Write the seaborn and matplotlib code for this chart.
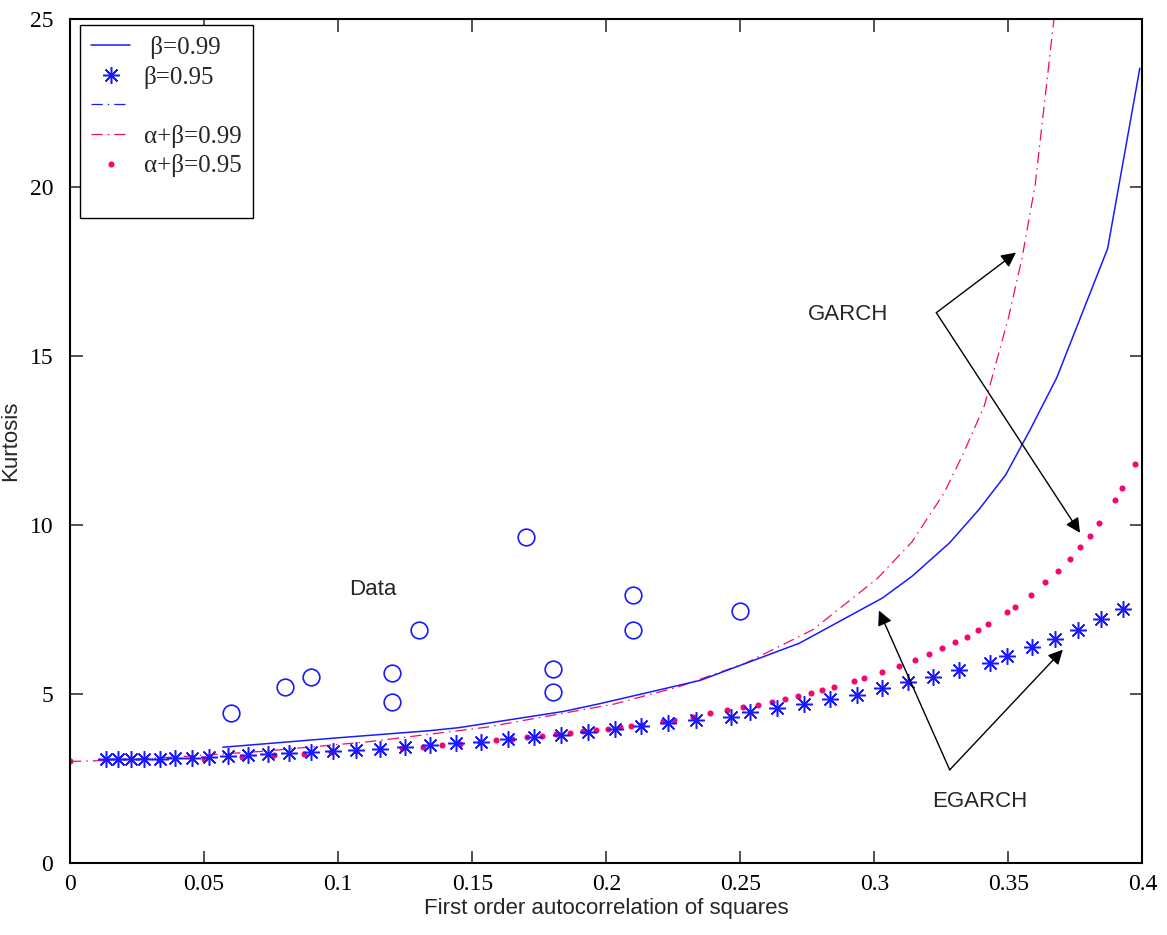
import matplotlib
matplotlib.use("Agg")
import matplotlib.pyplot as plt
from matplotlib.lines import Line2D
import seaborn as sns
import pandas as pd

# ---------------- data ----------------
# EGARCH, beta = 0.99 (solid blue line)
eg99_x = [0.057, 0.100, 0.134, 0.145, 0.184, 0.197, 0.235, 0.272, 0.303, 0.314,
          0.328, 0.339, 0.349, 0.358, 0.368, 0.387, 0.399]
eg99_y = [3.42, 3.70, 3.91, 4.00, 4.48, 4.70, 5.40, 6.50, 7.84, 8.48,
          9.47, 10.46, 11.49, 12.81, 14.36, 18.19, 23.53]

# EGARCH, beta = 0.95 (blue asterisks)
eg95_x = [0.0136, 0.0179, 0.0226, 0.0276, 0.0335, 0.0391, 0.0454, 0.0520, 0.0590,
          0.0663, 0.0737, 0.0815, 0.0898, 0.0979, 0.1068, 0.1155, 0.1251, 0.1344,
          0.1438, 0.1533, 0.1633, 0.1730, 0.1830, 0.1932, 0.2032, 0.2131, 0.2232,
          0.2335, 0.2465, 0.2536, 0.2637, 0.2737, 0.2836, 0.2935, 0.3029, 0.3125,
          0.3219, 0.3315, 0.3430, 0.3495, 0.3587, 0.3673, 0.3761, 0.3847, 0.3929]
eg95_y = [3.07, 3.07, 3.07, 3.07, 3.07, 3.09, 3.11, 3.14, 3.16,
          3.18, 3.21, 3.24, 3.28, 3.31, 3.34, 3.38, 3.42, 3.48,
          3.54, 3.58, 3.66, 3.72, 3.79, 3.87, 3.95, 4.04, 4.15,
          4.24, 4.33, 4.45, 4.58, 4.71, 4.85, 4.98, 5.16, 5.34,
          5.51, 5.71, 5.91, 6.13, 6.39, 6.63, 6.90, 7.22, 7.51]

# GARCH, alpha + beta = 0.99 (magenta dash-dot line)
g99_x = [0.0, 0.015, 0.039, 0.072, 0.111, 0.155, 0.203, 0.227, 0.252, 0.277,
         0.301, 0.314, 0.326, 0.333, 0.341, 0.350, 0.355, 0.360, 0.367]
g99_y = [3.00, 3.03, 3.13, 3.30, 3.58, 4.01, 4.70, 5.21, 5.91, 6.90,
         8.41, 9.50, 10.95, 12.09, 13.53, 16.14, 17.88, 20.09, 25.0]

# GARCH, alpha + beta = 0.95 (magenta dots)
g95_x = [0.0, 0.0333, 0.0501, 0.0640, 0.0762, 0.0872, 0.0974, 0.1068, 0.1155,
         0.1238, 0.1315, 0.1388, 0.1456, 0.1528, 0.1587, 0.1647, 0.1705, 0.1761,
         0.1813, 0.1864, 0.1913, 0.1961, 0.2008, 0.2050, 0.2093, 0.2135, 0.2210,
         0.2251, 0.2322, 0.2387, 0.2449, 0.2509, 0.2565, 0.2619, 0.2668, 0.2717,
         0.2763, 0.2805, 0.2848, 0.2923, 0.2960, 0.3029, 0.3092, 0.3150, 0.3204,
         0.3254, 0.3301, 0.3345, 0.3385, 0.3423, 0.3493, 0.3525, 0.3584, 0.3636,
         0.3686, 0.3728, 0.3768, 0.3804, 0.3839, 0.3899, 0.3925, 0.3973]
g95_y = [3.01, 3.04, 3.08, 3.13, 3.18, 3.22, 3.27, 3.31, 3.36,
         3.40, 3.44, 3.49, 3.53, 3.59, 3.63, 3.66, 3.71, 3.75,
         3.80, 3.84, 3.90, 3.93, 3.96, 4.01, 4.05, 4.09, 4.19,
         4.23, 4.32, 4.42, 4.51, 4.60, 4.68, 4.76, 4.85, 4.95,
         5.03, 5.12, 5.21, 5.39, 5.47, 5.64, 5.82, 6.00, 6.17,
         6.36, 6.54, 6.70, 6.88, 7.06, 7.42, 7.58, 7.94, 8.30,
         8.64, 9.00, 9.34, 9.69, 10.05, 10.75, 11.11, 11.82]

# Empirical data (open circles)
data_x = [0.06, 0.08, 0.09, 0.12, 0.12, 0.13, 0.17, 0.18, 0.18, 0.21, 0.21, 0.25]
data_y = [4.44, 5.19, 5.51, 4.76, 5.62, 6.90, 9.66, 5.74, 5.06, 7.93, 6.90, 7.45]

legend_labels = [" \u03b2=0.99", "\u03b2=0.95", " ", "\u03b1+\u03b2=0.99", "\u03b1+\u03b2=0.95", " "]
x_ticks = [0, 0.05, 0.1, 0.15, 0.2, 0.25, 0.3, 0.35, 0.4]
x_tick_labels = ["0", "0.05", "0.1", "0.15", "0.2", "0.25", "0.3", "0.35", "0.4"]
y_ticks = [0, 5, 10, 15, 20, 25]

BLUE = "#1a1aff"
MAG = "#f5086e"

sns.set_theme(style="white")
plt.rcParams["font.family"] = ["Liberation Sans", "DejaVu Sans"]

fig = plt.figure(figsize=(11.67, 9.35), dpi=100)
ax = fig.add_axes([0.060, 0.0773, 0.919, 0.9028])

dash_dot = (9, 4, 1.2, 4)
STAR = (8, 2, 0)

sns.lineplot(x=g99_x, y=g99_y, ax=ax, sort=False, estimator=None, color=MAG,
             linewidth=0.9, dashes=False)
ax.lines[-1].set_dashes(dash_dot)
sns.lineplot(x=eg99_x, y=eg99_y, ax=ax, sort=False, estimator=None, color=BLUE,
             linewidth=1.1)
sns.lineplot(x=g95_x, y=g95_y, ax=ax, sort=False, estimator=None, color=MAG,
             linestyle="", marker="o", markersize=4.4, markeredgewidth=0,
             markerfacecolor=MAG, markeredgecolor=MAG)
sns.lineplot(x=eg95_x, y=eg95_y, ax=ax, sort=False, estimator=None, color=BLUE,
             linestyle="", marker=STAR, markersize=12, markeredgewidth=1.1,
             markeredgecolor=BLUE, markerfacecolor=BLUE)
sns.lineplot(x=data_x, y=data_y, ax=ax, sort=False, estimator=None, color=BLUE,
             linestyle="", marker="o", markersize=12, markerfacecolor="none",
             markeredgecolor=BLUE, markeredgewidth=1.2)

ax.set_xlim(0, 0.4)
ax.set_ylim(0, 25)
ax.set_xticks(x_ticks)
ax.set_xticklabels(x_tick_labels)
ax.set_yticks(y_ticks)
for lab in ax.get_xticklabels() + ax.get_yticklabels():
    lab.set_family(["Liberation Serif", "DejaVu Serif"])
    lab.set_fontsize(17)
ax.tick_params(axis="both", which="both", direction="in", length=9, width=1.2,
               color="#333333", top=True, right=True, bottom=True, left=True,
               labelcolor="black")
ax.tick_params(axis="x", pad=8)
ax.tick_params(axis="y", pad=12)
for sp in ax.spines.values():
    sp.set_visible(True)
    sp.set_color("black")
    sp.set_linewidth(1.5)

ax.set_xlabel("First order autocorrelation of squares", fontsize=16, labelpad=2)
ax.set_ylabel("Kurtosis", fontsize=16, labelpad=6)

# annotations
ax.text(0.2902, 16.23, "GARCH", fontsize=16, ha="center", va="center")
ax.text(0.3393, 1.81, "EGARCH", fontsize=16, ha="center", va="center")
ax.text(0.1129, 8.09, "Data", fontsize=16, ha="center", va="center")

arrow = dict(arrowstyle="-|>", mutation_scale=22, color="black", lw=1.0,
             shrinkA=0, shrinkB=0)
ax.annotate("", xy=(0.3528, 18.07), xytext=(0.3231, 16.29), arrowprops=arrow)
ax.annotate("", xy=(0.3767, 9.77), xytext=(0.3231, 16.29), arrowprops=arrow)
ax.annotate("", xy=(0.3017, 7.47), xytext=(0.3281, 2.75), arrowprops=arrow)
ax.annotate("", xy=(0.3703, 6.31), xytext=(0.3281, 2.75), arrowprops=arrow)

handles = [
    Line2D([], [], color=BLUE, lw=1.1),
    Line2D([], [], color=BLUE, linestyle="", marker=STAR, markersize=12,
           markeredgewidth=1.1, markeredgecolor=BLUE),
    Line2D([], [], color=BLUE, lw=0.9, dashes=dash_dot),
    Line2D([], [], color=MAG, lw=0.9, dashes=dash_dot),
    Line2D([], [], color=MAG, linestyle="", marker="o", markersize=4.4, markeredgewidth=0),
    Line2D([], [], linestyle="", marker=None),
]
leg = ax.legend(handles, legend_labels, loc="upper left",
                bbox_to_anchor=(10 / 1072.7, 1 - 6 / 844.2), borderaxespad=0,
                prop={"family": ["Liberation Serif", "DejaVu Serif"], "size": 18},
                frameon=True, fancybox=False, edgecolor="black", framealpha=1,
                handlelength=1.55, handletextpad=0.55, labelspacing=0.27,
                borderpad=0.45)
leg.get_frame().set_linewidth(1.0)

fig.savefig("out.png", dpi=100)
